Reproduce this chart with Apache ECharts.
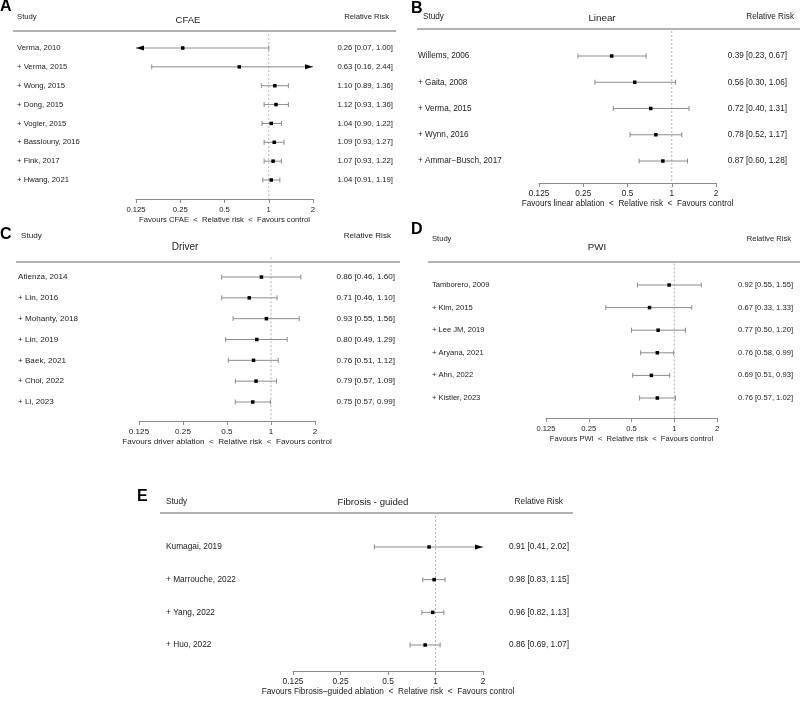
<!DOCTYPE html>
<html><head><meta charset="utf-8">
<script src="https://cdn.jsdelivr.net/npm/echarts@6/dist/echarts.min.js"></script>
<style>html,body{margin:0;padding:0;background:#fff}#c{width:800px;height:701px}</style>
</head><body><div id="c"></div>
<script>
// ---------- DATA ----------
const tickValues = [0.125, 0.25, 0.5, 1, 2];

const studiesA = ['Verma, 2010', '+ Verma, 2015', '+ Wong, 2015', '+ Dong, 2015', '+ Vogler, 2015', '+ Bassiouny, 2016', '+ Fink, 2017', '+ Hwang, 2021'];
const rrA = [0.26, 0.63, 1.10, 1.12, 1.04, 1.09, 1.07, 1.04];
const loA = [0.07, 0.16, 0.89, 0.93, 0.90, 0.93, 0.93, 0.91];
const hiA = [1.00, 2.44, 1.36, 1.36, 1.22, 1.27, 1.22, 1.19];

const studiesB = ['Willems, 2006', '+ Gaita, 2008', '+ Verma, 2015', '+ Wynn, 2016', '+ Ammar\u2212Busch, 2017'];
const rrB = [0.39, 0.56, 0.72, 0.78, 0.87];
const loB = [0.23, 0.30, 0.40, 0.52, 0.60];
const hiB = [0.67, 1.06, 1.31, 1.17, 1.28];

const studiesC = ['Atienza, 2014', '+ Lin, 2016', '+ Mohanty, 2018', '+ Lin, 2019', '+ Baek, 2021', '+ Choi, 2022', '+ Li, 2023'];
const rrC = [0.86, 0.71, 0.93, 0.80, 0.76, 0.79, 0.75];
const loC = [0.46, 0.46, 0.55, 0.49, 0.51, 0.57, 0.57];
const hiC = [1.60, 1.10, 1.56, 1.29, 1.12, 1.09, 0.99];

const studiesD = ['Tamborero, 2009', '+ Kim, 2015', '+ Lee JM, 2019', '+ Aryana, 2021', '+ Ahn, 2022', '+ Kistler, 2023'];
const rrD = [0.92, 0.67, 0.77, 0.76, 0.69, 0.76];
const loD = [0.55, 0.33, 0.50, 0.58, 0.51, 0.57];
const hiD = [1.55, 1.33, 1.20, 0.99, 0.93, 1.02];

const studiesE = ['Kumagai, 2019', '+ Marrouche, 2022', '+ Yang, 2022', '+ Huo, 2022'];
const rrE = [0.91, 0.98, 0.96, 0.86];
const loE = [0.41, 0.83, 0.82, 0.69];
const hiE = [2.02, 1.15, 1.13, 1.07];

const panelLetters = ['A', 'B', 'C', 'D', 'E'];
const panelTitles = ['CFAE', 'Linear', 'Driver', 'PWI', 'Fibrosis - guided'];
const axisTitles = [
  'Favours CFAE  <  Relative risk  <  Favours control',
  'Favours linear ablation  <  Relative risk  <  Favours control',
  'Favours driver ablation  <  Relative risk  <  Favours control',
  'Favours PWI  <  Relative risk  <  Favours control',
  'Favours Fibrosis\u2013guided ablation  <  Relative risk  <  Favours control'
];

// ---------- LAYOUT (pixels) ----------
const layouts = [
  { left: 136, right: 313, row1: 48, rowN: 180, axisY: 199, fs: 7.7, tfs: 9.5, mL: 119, mR: 80,
    studyX: 17, headY: 17, titleX: 188, titleY: 20, rrX: 389, lineY: 31, lineX1: 13, lineX2: 396, letter: [0, 7] },
  { left: 539, right: 716, row1: 56, rowN: 161, axisY: 183, fs: 8.2, tfs: 9.8, mL: 121, mR: 71,
    studyX: 423, headY: 17, titleX: 602, titleY: 18, rrX: 794, lineY: 29, lineX1: 417, lineX2: 800, letter: [411, 9] },
  { left: 139, right: 315, row1: 277, rowN: 402, axisY: 421, fs: 8.1, tfs: 10, mL: 121, mR: 80,
    studyX: 21, headY: 236, titleX: 185, titleY: 247, rrX: 391, lineY: 262, lineX1: 16, lineX2: 400, letter: [0, 235] },
  { left: 546, right: 717, row1: 285, rowN: 398, axisY: 418, fs: 7.6, tfs: 9.7, mL: 114, mR: 76,
    studyX: 432, headY: 239, titleX: 597, titleY: 247, rrX: 791, lineY: 262, lineX1: 428, lineX2: 800, letter: [411, 230] },
  { left: 293, right: 483, row1: 547, rowN: 645, axisY: 671, fs: 8.3, tfs: 9.6, mL: 127, mR: 86,
    studyX: 166, headY: 502, titleX: 373, titleY: 502, rrX: 563, lineY: 513, lineX1: 160, lineX2: 573, letter: [137, 497] }
];

const panels = [
  [studiesA, rrA, loA, hiA],
  [studiesB, rrB, loB, hiB],
  [studiesC, rrC, loC, hiC],
  [studiesD, rrD, loD, hiD],
  [studiesE, rrE, loE, hiE]
];

const FONT = "'Liberation Sans', Arial, Helvetica, sans-serif";
const TXT = '#1a1a1a';
const XMIN = tickValues[0], XMAX = tickValues[tickValues.length - 1];

function fmt(v) { return v.toFixed(2); }

function renderForest(params, api) {
  const rr = api.value(0), lo = api.value(1), hi = api.value(2), row = api.value(3);
  const l = Math.max(lo, XMIN), h = Math.min(hi, XMAX);
  const pL = api.coord([l, row]), pR = api.coord([h, row]), pM = api.coord([rr, row]);
  const y = pM[1];
  const grey = '#8c8c8c';
  const ch = [{ type: 'line', shape: { x1: pL[0], y1: y, x2: pR[0], y2: y }, style: { stroke: grey, lineWidth: 1 } }];
  if (lo >= XMIN) {
    ch.push({ type: 'line', shape: { x1: pL[0], y1: y - 2.5, x2: pL[0], y2: y + 2.5 }, style: { stroke: grey, lineWidth: 1 } });
  } else {
    ch.push({ type: 'polygon', shape: { points: [[pL[0], y], [pL[0] + 8, y - 2.5], [pL[0] + 8, y + 2.5]] }, style: { fill: '#000' } });
  }
  if (hi <= XMAX) {
    ch.push({ type: 'line', shape: { x1: pR[0], y1: y - 2.5, x2: pR[0], y2: y + 2.5 }, style: { stroke: grey, lineWidth: 1 } });
  } else {
    ch.push({ type: 'polygon', shape: { points: [[pR[0], y], [pR[0] - 8, y - 2.5], [pR[0] - 8, y + 2.5]] }, style: { fill: '#000' } });
  }
  ch.push({ type: 'rect', shape: { x: pM[0] - 1.75, y: y - 1.75, width: 3.5, height: 3.5 }, style: { fill: '#000' } });
  return { type: 'group', children: ch };
}

const grid = [], xAxis = [], yAxis = [], series = [], graphic = [];

panels.forEach((p, i) => {
  const [studies, rr, lo, hi] = p;
  const L = layouts[i];
  const n = studies.length;
  const sp = (L.rowN - L.row1) / (n - 1);
  const top = L.row1 - sp;
  const yMax = (L.axisY - top) / sp;
  grid.push({ left: L.left, top: top, width: L.right - L.left, height: L.axisY - top, containLabel: false });
  xAxis.push({
    gridIndex: i, type: 'log', logBase: 2, min: XMIN, max: XMAX, interval: 1, position: 'bottom',
    axisLine: { show: true, onZero: false, lineStyle: { color: '#8c8c8c', width: 1 } },
    axisTick: { show: true, length: 4, lineStyle: { color: '#8c8c8c' } },
    splitLine: { show: false },
    axisLabel: { fontSize: L.fs, color: TXT, fontFamily: FONT, margin: 7, formatter: v => String(+v.toPrecision(6)) },
    name: axisTitles[i], nameLocation: 'middle', nameGap: 17,
    nameTextStyle: { fontSize: L.fs, color: TXT, fontFamily: FONT }
  });
  const labelFor = (arr) => (v) => {
    const k = Math.round(v);
    if (Math.abs(v - k) > 1e-6 || k < 1 || k > n) return '';
    return arr[k - 1];
  };
  const rrText = studies.map((s, k) => fmt(rr[k]) + ' [' + fmt(lo[k]) + ', ' + fmt(hi[k]) + ']');
  const baseY = {
    gridIndex: i, type: 'value', inverse: true, min: 0, max: yMax, interval: 1,
    axisLine: { show: false, onZero: false }, axisTick: { show: false }, splitLine: { show: false }
  };
  yAxis.push(Object.assign({}, baseY, {
    position: 'left',
    axisLabel: { fontSize: L.fs, color: TXT, fontFamily: FONT, align: 'left', margin: L.mL, showMinLabel: false, showMaxLabel: false, formatter: labelFor(studies) }
  }));
  yAxis.push(Object.assign({}, baseY, {
    position: 'right',
    axisLabel: { fontSize: L.fs, color: TXT, fontFamily: FONT, align: 'right', margin: L.mR, showMinLabel: false, showMaxLabel: false, formatter: labelFor(rrText) }
  }));
  const yi = yAxis.length - 2;
  series.push({
    type: 'line', xAxisIndex: i, yAxisIndex: yi, data: [[1, 0.05], [1, yMax]], symbol: 'none', silent: true,
    lineStyle: { color: '#b5b5b5', width: 1, type: [2, 2] }, z: 1
  });
  series.push({
    type: 'custom', xAxisIndex: i, yAxisIndex: yi, clip: false, renderItem: renderForest, z: 3,
    data: studies.map((s, k) => [rr[k], lo[k], hi[k], k + 1])
  });
  // headers
  graphic.push({ type: 'text', x: L.studyX, y: L.headY, style: { text: 'Study', font: L.fs + 'px ' + FONT, fill: TXT, align: 'left', verticalAlign: 'middle' } });
  graphic.push({ type: 'text', x: L.titleX, y: L.titleY, style: { text: panelTitles[i], font: L.tfs + 'px ' + FONT, fill: TXT, align: 'center', verticalAlign: 'middle' } });
  graphic.push({ type: 'text', x: L.rrX, y: L.headY, style: { text: 'Relative Risk', font: L.fs + 'px ' + FONT, fill: TXT, align: 'right', verticalAlign: 'middle' } });
  graphic.push({ type: 'line', shape: { x1: L.lineX1, y1: L.lineY, x2: L.lineX2, y2: L.lineY }, style: { stroke: '#9a9a9a', lineWidth: 1.5 } });
  graphic.push({ type: 'text', x: L.letter[0], y: L.letter[1], style: { text: panelLetters[i], font: 'bold 16px ' + FONT, fill: '#000', align: 'left', verticalAlign: 'middle' } });
});

const chart = echarts.init(document.getElementById('c'), null, { renderer: 'canvas' });
chart.setOption({
  animation: false,
  backgroundColor: '#fff',
  textStyle: { fontFamily: FONT },
  grid, xAxis, yAxis, series, graphic
});
</script>
</body></html>
